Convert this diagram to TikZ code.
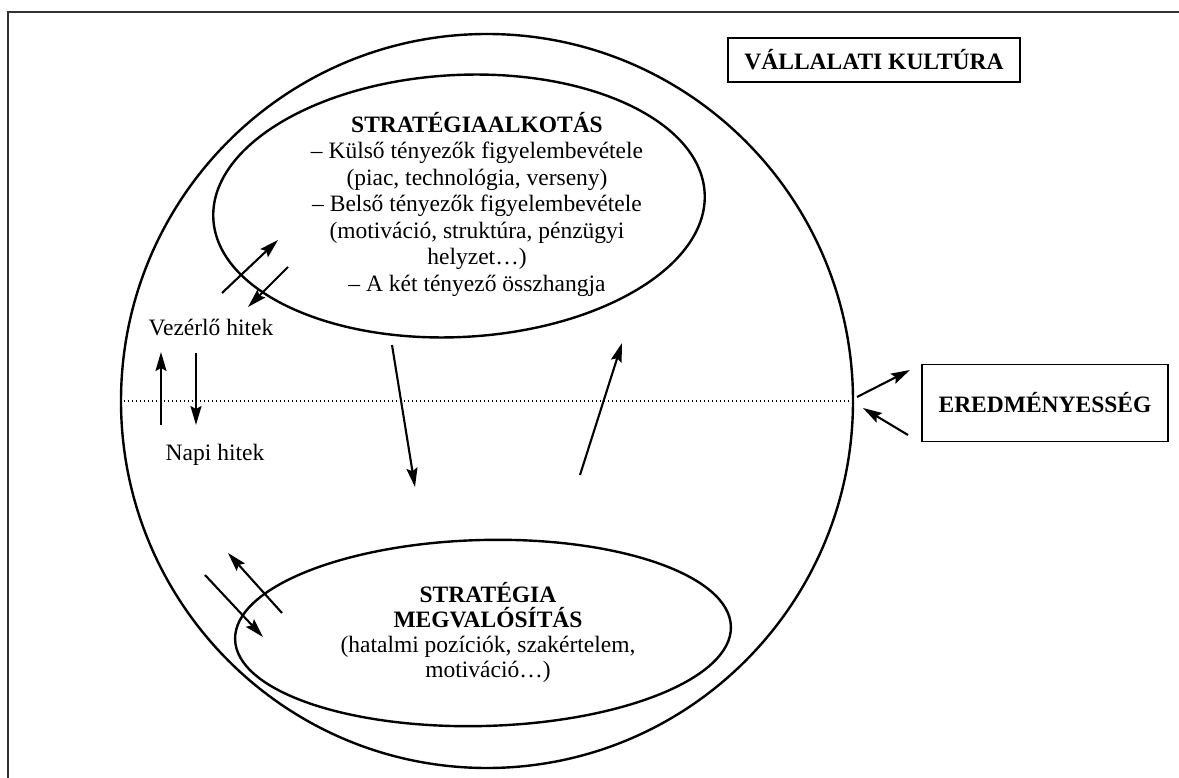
\documentclass[tikz,border=0pt]{standalone}
\usepackage{fontspec}
\setmainfont{Liberation Serif}
\usetikzlibrary{shapes.geometric,arrows.meta}
\begin{document}
\begin{tikzpicture}[x=1pt,y=-1pt,
 arr/.style={line width=2.1pt,-{Stealth[length=19pt,width=11pt,inset=3pt]}},
 lbl/.style={font=\fontsize{23.5}{26.5}\selectfont, inner sep=0pt},
 box/.style={draw,line width=1.6pt, inner sep=0pt, font=\bfseries\fontsize{23.5}{26.5}\selectfont},
 ell/.style={draw, ellipse, line width=2.4pt, inner sep=0pt},
 frame/.style={line width=1.6pt, draw=black!80}
]
\useasboundingbox (0,0) rectangle (1179,778);
\draw[frame] (1179,12) -- (8,12) -- (8,778);

\node[ell, minimum width=732pt, minimum height=734pt] (outer) at (487,401) {};
\node[ell, minimum width=492pt, minimum height=262pt, rotate=3] (upper) at (459,206) {};
\node[ell, minimum width=496pt, minimum height=186pt, rotate=1.5] (lower) at (483,633) {};

\draw[line width=1.6pt, dash pattern=on 1.6pt off 2.4pt] (outer.west) -- (outer.east);

\node[box, minimum width=292pt, minimum height=44pt] (vk) at (874,60) {VÁLLALATI KULTÚRA};
\node[box, minimum width=246pt, minimum height=77pt] (er) at (1045,403) {EREDMÉNYESSÉG};

\node[lbl, align=center] (ut) at (477,204) {\textbf{STRATÉGIAALKOTÁS}\\
– Külső tényezők figyelembevétele\\
(piac, technológia, verseny)\\
– Belső tényezők figyelembevétele\\
(motiváció, struktúra, pénzügyi\\
helyzet…)\\
– A két tényező összhangja};

\node[lbl, align=center, font=\fontsize{23.5}{25}\selectfont] (lt) at (488,632) {\textbf{STRATÉGIA}\\
\textbf{MEGVALÓSÍTÁS}\\
(hatalmi pozíciók, szakértelem,\\
motiváció…)};

\node[lbl] (vh) at (211,328) {Vezérlő hitek};
\node[lbl] (nh) at (215,455) {Napi hitek};

\coordinate (a1s) at (222,293); \coordinate (a1e) at (278,240);
\coordinate (a2s) at (288,267); \coordinate (a2e) at (248,307);
\coordinate (b1s) at (161,425); \coordinate (b1e) at (161,352);
\coordinate (b2s) at (196,353); \coordinate (b2e) at (196,425);
\coordinate (c1s) at (282,613); \coordinate (c1e) at (228,553);
\coordinate (c2s) at (205,575); \coordinate (c2e) at (263,637);
\coordinate (m1s) at (392,345); \coordinate (m1e) at (415,487);
\coordinate (m2s) at (580,475); \coordinate (m2e) at (622,343);
\coordinate (e1s) at (857,397); \coordinate (e1e) at (910,370);
\coordinate (e2s) at (908,435); \coordinate (e2e) at (863,408);

\foreach \p in {a1,a2,b1,b2,c1,c2,m1,m2,e1,e2}
  \draw[arr] (\p s) -- (\p e);
\end{tikzpicture}
\end{document}
